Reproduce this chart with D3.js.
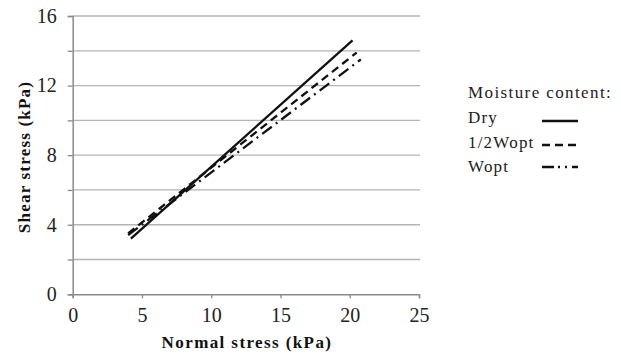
<!DOCTYPE html>
<html>
<head>
<meta charset="utf-8">
<script src="https://cdn.jsdelivr.net/npm/d3@7"></script>
<style>
  body { margin: 0; background: #fff; }
  svg { font-family: "Liberation Serif", "Times New Roman", serif; }
</style>
</head>
<body>
<svg id="chart" width="621" height="356"></svg>
<script>
// chart values
var xTicks = [0, 5, 10, 15, 20, 25];
var yTicks = [0, 4, 8, 12, 16];
var yGrid = [2, 4, 6, 8, 10, 12, 14, 16];
var seriesNames = ["Dry", "1/2Wopt", "Wopt"];
var dryPts = [[4.2, 3.2], [20.2, 14.6]];
var halfWoptPts = [[4.0, 3.5], [20.5, 13.9]];
var woptPts = [[4.0, 3.4], [20.8, 13.5]];
var dashes = ["none", "8,5", "12,5,2,5"];
var legDashes = ["none", "8,5", "12,4,2,5,2,5"];

var svg = d3.select("#chart");
var x = d3.scaleLinear().domain([0, 25]).range([72.7, 419]);
var y = d3.scaleLinear().domain([0, 16]).range([294.3, 16]);

// gridlines
svg.append("g").selectAll("line").data(yGrid).enter().append("line")
    .attr("x1", x(0)).attr("x2", 420)
    .attr("y1", function(d) { return y(d); }).attr("y2", function(d) { return y(d); })
    .attr("stroke", "#b4b4b4").attr("stroke-width", 1.3);

// axes
var xAxis = svg.append("g").attr("transform", "translate(0," + y(0) + ")")
    .call(d3.axisBottom(x).tickValues(xTicks).tickSize(4).tickPadding(10));
var yAxis = svg.append("g").attr("transform", "translate(" + x(0) + ",0)")
    .call(d3.axisLeft(y).tickValues(yGrid.concat([0])).tickSize(5).tickPadding(11)
      .tickFormat(function(d) { return yTicks.indexOf(d) >= 0 ? d : ""; }));
[xAxis, yAxis].forEach(function(a) {
  a.select(".domain").attr("stroke", "#8a8a8a").attr("stroke-width", 1.5);
  a.selectAll(".tick line").attr("stroke", "#8a8a8a").attr("stroke-width", 1.3);
  a.selectAll("text").attr("font-family", "Liberation Serif").attr("font-size", 20).attr("fill", "#222");
});

// axis titles
svg.append("text").attr("x", 247).attr("y", 348).attr("text-anchor", "middle")
    .attr("font-size", 17).attr("font-weight", "bold").attr("letter-spacing", 1.4).attr("fill", "#111")
    .text("Normal stress (kPa)");
svg.append("text").attr("transform", "translate(30,157) rotate(-90)").attr("text-anchor", "middle")
    .attr("font-size", 17).attr("font-weight", "bold").attr("letter-spacing", 1.2).attr("fill", "#111")
    .text("Shear stress (kPa)");

// series lines
var line = d3.line().x(function(d) { return x(d[0]); }).y(function(d) { return y(d[1]); });
[dryPts, halfWoptPts, woptPts].forEach(function(pts, i) {
  svg.append("path").datum(pts).attr("d", line)
      .attr("fill", "none").attr("stroke", "#111").attr("stroke-width", 2.3)
      .attr("stroke-dasharray", dashes[i]);
});

// legend
svg.append("text").attr("x", 468).attr("y", 98).attr("font-size", 17).attr("letter-spacing", 1.4).attr("fill", "#222")
    .text("Moisture content:");
var legY = [123, 147.5, 171.5];
var legLineY = [121, 145, 167];
seriesNames.forEach(function(n, i) {
  svg.append("text").attr("x", 468).attr("y", legY[i]).attr("font-size", 17).attr("letter-spacing", 1.2)
      .attr("fill", "#222").text(n);
  svg.append("line").attr("x1", 542).attr("x2", 578)
      .attr("y1", legLineY[i]).attr("y2", legLineY[i])
      .attr("stroke", "#111").attr("stroke-width", 2.4)
      .attr("stroke-dasharray", legDashes[i]);
});
</script>
</body>
</html>
